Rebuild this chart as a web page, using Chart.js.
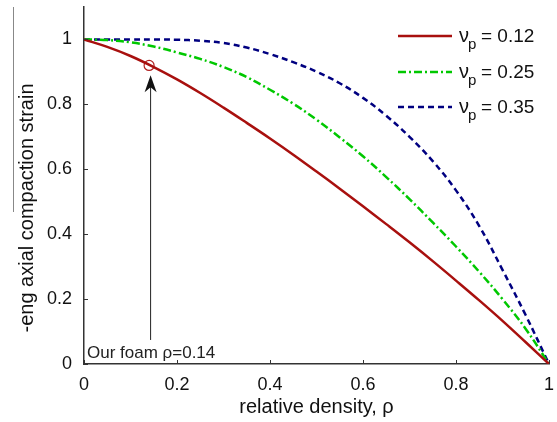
<!DOCTYPE html>
<html>
<head>
<meta charset="utf-8">
<script src="https://cdn.jsdelivr.net/npm/chart.js@4"></script>
<style>
  html, body { margin: 0; padding: 0; background: #fff; }
  #wrap { width: 557px; height: 422px; position: relative; }
</style>
</head>
<body>
<div id="wrap"><canvas id="strainChart" width="557" height="422"></canvas></div>
<script>
// Relative density (x) and compaction strain for each Poisson ratio
const density = [0, 0.05, 0.1, 0.15, 0.2, 0.25, 0.3, 0.35, 0.4, 0.45, 0.5,
                 0.55, 0.6, 0.65, 0.7, 0.75, 0.8, 0.85, 0.9, 0.95, 1];
const strainNu012 = [1.0, 0.977, 0.949, 0.915, 0.877, 0.835, 0.790, 0.743, 0.695, 0.645, 0.593,
                     0.540, 0.486, 0.431, 0.375, 0.317, 0.257, 0.196, 0.133, 0.067, 0];
const strainNu025 = [1.0, 0.998, 0.991, 0.978, 0.960, 0.940, 0.915, 0.884, 0.845, 0.802, 0.753,
                     0.698, 0.640, 0.576, 0.508, 0.436, 0.362, 0.284, 0.200, 0.108, 0];
const strainNu035 = [1.0, 1.0, 1.0, 1.0, 0.999, 0.996, 0.989, 0.975, 0.955, 0.930, 0.901,
                     0.865, 0.820, 0.765, 0.700, 0.625, 0.535, 0.425, 0.290, 0.150, 0];
const seriesLabels = ['0.12', '0.25', '0.35'];
const xTicks = [0, 0.2, 0.4, 0.6, 0.8, 1];
const yTicks = [0, 0.2, 0.4, 0.6, 0.8, 1];

// our foam sample
const foamDensity = 0.14;
const foamStrain = 0.92;
const arrowBase = 0.074;
const arrowTip = 0.89;
const foamText = 'Our foam \u03C1=0.14';

const FONT = '"Liberation Sans", Arial, sans-serif';
const colors = ['#a8100e', '#00c800', '#000080'];
const dashes = [[], [8, 3, 2, 3], [6, 4]];

function toPoints(ys) {
    return density.map((x, i) => ({ x: x, y: ys[i] }));
}

function fmt(v) {
    return String(+v.toFixed(1));
}

// inward tick marks, annotation arrow, legend and the y title
const decorations = {
    id: 'decorations',
    afterDraw(chart) {
        const ctx = chart.ctx;
        const xs = chart.scales.x;
        const ys = chart.scales.y;
        const area = chart.chartArea;

        ctx.save();
        ctx.strokeStyle = '#333';
        ctx.lineWidth = 1;
        xTicks.forEach(v => {
            const px = Math.round(xs.getPixelForValue(v)) + 0.5;
            ctx.beginPath();
            ctx.moveTo(px, area.bottom);
            ctx.lineTo(px, area.bottom - 4);
            ctx.stroke();
        });
        yTicks.forEach(v => {
            const py = Math.round(ys.getPixelForValue(v)) + 0.5;
            ctx.beginPath();
            ctx.moveTo(area.left, py);
            ctx.lineTo(area.left + 4, py);
            ctx.stroke();
        });

        // arrow pointing at the foam point
        const ax = xs.getPixelForValue(foamDensity) + 1.5;
        const y0 = ys.getPixelForValue(arrowBase);
        const y1 = ys.getPixelForValue(arrowTip);
        ctx.strokeStyle = '#222';
        ctx.lineWidth = 1;
        ctx.beginPath();
        ctx.moveTo(ax, y0);
        ctx.lineTo(ax, y1 + 6);
        ctx.stroke();
        ctx.fillStyle = '#111';
        ctx.beginPath();
        ctx.moveTo(ax, y1);
        ctx.lineTo(ax + 6, y1 + 17);
        ctx.lineTo(ax, y1 + 12);
        ctx.lineTo(ax - 6, y1 + 17);
        ctx.closePath();
        ctx.fill();

        ctx.font = '17px ' + FONT;
        ctx.fillStyle = '#222';
        ctx.textAlign = 'left';
        ctx.textBaseline = 'alphabetic';
        ctx.fillText(foamText, area.left + 3, ys.getPixelForValue(0.018));

        // legend
        const rows = [36, 72, 107];
        rows.forEach((ry, i) => {
            ctx.strokeStyle = colors[i];
            ctx.lineWidth = 2.5;
            ctx.setLineDash(dashes[i]);
            ctx.beginPath();
            ctx.moveTo(398, ry);
            ctx.lineTo(452, ry);
            ctx.stroke();
            ctx.setLineDash([]);
            ctx.fillStyle = '#111';
            ctx.font = '20px ' + FONT;
            ctx.fillText('\u03BD', 459, ry + 6);
            ctx.font = '15px ' + FONT;
            ctx.fillText('p', 468, ry + 13);
            ctx.font = '19px ' + FONT;
            ctx.fillText('= ' + seriesLabels[i], 481, ry + 6);
        });

        // y axis title
        ctx.translate(27, 208);
        ctx.rotate(-Math.PI / 2);
        ctx.font = '20px ' + FONT;
        ctx.textAlign = 'center';
        ctx.textBaseline = 'middle';
        ctx.fillStyle = '#111';
        ctx.fillText('-eng axial compaction strain', 0, 0);
        ctx.restore();

        // thin rule beside the title
        ctx.save();
        ctx.strokeStyle = '#888';
        ctx.lineWidth = 1;
        ctx.beginPath();
        ctx.moveTo(13.5, 7);
        ctx.lineTo(13.5, 212);
        ctx.stroke();
        ctx.restore();
    }
};

function curve(i, ys) {
    return {
        label: 'nu_p = ' + seriesLabels[i],
        data: toPoints(ys),
        borderColor: colors[i],
        borderWidth: 2.5,
        borderDash: dashes[i],
        pointRadius: 0,
        tension: 0.4,
        fill: false
    };
}

const ctx = document.getElementById('strainChart').getContext('2d');
const strainChart = new Chart(ctx, {
    type: 'line',
    data: {
        datasets: [
            curve(0, strainNu012),
            curve(1, strainNu025),
            curve(2, strainNu035),
            {
                label: 'foam',
                data: [{ x: foamDensity, y: foamStrain }],
                showLine: false,
                pointRadius: 5,
                pointBorderWidth: 1.2,
                pointBorderColor: '#b02020',
                pointBackgroundColor: 'rgba(0,0,0,0)'
            }
        ]
    },
    options: {
        responsive: false,
        animation: false,
        layout: { padding: { top: 7, right: 8, left: 0, bottom: 0 } },
        plugins: {
            legend: { display: false },
            tooltip: { enabled: false }
        },
        scales: {
            x: {
                type: 'linear',
                min: 0,
                max: 1,
                afterBuildTicks: s => { s.ticks = xTicks.map(v => ({ value: v })); },
                afterFit: s => { s.height = 58; },
                grid: { display: false },
                border: { display: true, color: '#333', width: 1.5 },
                ticks: {
                    color: '#111',
                    font: { family: FONT, size: 18 },
                    padding: 2,
                    maxRotation: 0,
                    callback: v => fmt(v)
                },
                title: {
                    display: true,
                    text: 'relative density, \u03C1',
                    color: '#111',
                    font: { family: FONT, size: 20 },
                    padding: { top: 2, bottom: 3 }
                }
            },
            y: {
                type: 'linear',
                min: 0,
                max: 1.1,
                afterBuildTicks: s => { s.ticks = yTicks.map(v => ({ value: v })); },
                afterFit: s => { s.width = 84; s.paddingTop = 0; s.paddingBottom = 0; },
                grid: { display: false },
                border: { display: true, color: '#333', width: 1.5 },
                ticks: {
                    color: '#111',
                    font: { family: FONT, size: 18 },
                    padding: 4,
                    callback: v => fmt(v)
                }
            }
        }
    },
    plugins: [decorations]
});
</script>
</body>
</html>
